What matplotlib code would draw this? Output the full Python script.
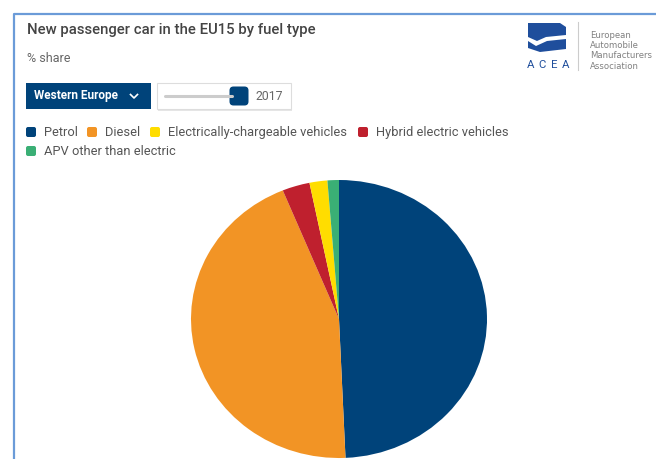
import matplotlib
matplotlib.use("Agg")
import matplotlib.pyplot as plt
from matplotlib.patches import FancyBboxPatch, Polygon, Rectangle

# ---- data ----
categories = ["Petrol", "Diesel", "Electrically-chargeable vehicles",
              "Hybrid electric vehicles", "APV other than electric"]
shares = [49.3, 44.5, 1.95, 3.0, 1.25]
colors = ["#00437A", "#F29425", "#FFDD00", "#BF202E", "#3AAF75"]
pie_order = [0, 1, 3, 2, 4]  # clockwise drawing order from 12 o'clock

title = "New passenger car in the EU15 by fuel type"
subtitle = "% share"
region = "Western Europe"
year = "2017"

plt.rcParams['font.family'] = ['Roboto', 'DejaVu Sans']

W, H = 656, 459
fig = plt.figure(figsize=(W / 100, H / 100), dpi=100)
fig.patch.set_facecolor("white")

# overlay in pixel coordinates
ov = fig.add_axes([0, 0, 1, 1])
ov.set_xlim(0, W)
ov.set_ylim(H, 0)
ov.axis("off")

# outer frame
ov.plot([13.5, 13.5, W], [H, 14, 14], color="#6B9BD8", lw=1.6,
        solid_capstyle="butt")

# title & subtitle
ov.text(27, 30, title, fontsize=10.7, color="#444444", fontweight="medium",
        va="center", ha="left")
ov.text(27, 58, subtitle, fontsize=9.0, color="#666666", va="center", ha="left")

# dropdown button
ov.add_patch(Rectangle((26, 83), 125, 26, facecolor="#00437A", edgecolor="none"))
ov.text(34, 96, region, fontsize=8.5, color="white", fontweight="bold",
        va="center", ha="left")
ov.plot([130.5, 134, 137.5], [94.5, 98, 94.5], color="white", lw=1.2)

# slider box
ov.add_patch(Rectangle((158, 84.5), 134, 26, facecolor="#e6e6e6", edgecolor="none"))
ov.add_patch(Rectangle((157, 83), 134, 26, facecolor="white", edgecolor="#dddddd", lw=0.8))
ov.plot([165, 232], [96, 96], color="#cccccc", lw=2.2, solid_capstyle="round")
ov.add_patch(FancyBboxPatch((231, 88), 16, 16, boxstyle="round,pad=1.5,rounding_size=4",
                            facecolor="#00437A", edgecolor="none"))
ov.text(255, 96.5, year, fontsize=8.8, color="#666666", va="center", ha="left")

# legend
legend_pos = [(26, 132), (87, 132), (150, 132), (358, 132), (26, 151)]
for i, (lx, ly) in enumerate(legend_pos):
    ov.add_patch(FancyBboxPatch((lx + 1, ly - 4), 8, 8,
                                boxstyle="round,pad=1,rounding_size=2",
                                facecolor=colors[i], edgecolor="none"))
    ov.text(lx + 18, ly + 0.5, categories[i], fontsize=9.3, color="#555555",
            va="center", ha="left")

# ACEA logo
logo_c = "#1F4E9C"
ov.add_patch(Polygon([(528, 23), (560, 23), (566, 27), (566, 35), (546, 37),
                      (537, 41), (528, 37)], closed=True, facecolor=logo_c,
                     edgecolor="none"))
ov.add_patch(Polygon([(528, 41), (536, 46), (547, 41), (566, 39), (566, 49),
                      (540, 52), (528, 48)], closed=True, facecolor=logo_c,
                     edgecolor="none"))
for k, ch in enumerate("ACEA"):
    ov.text(531 + k * 11.5, 65, ch, fontsize=8.2, color=logo_c, va="center",
            ha="center")
ov.plot([578, 578], [22, 70], color="#cccccc", lw=0.8)
for k, line in enumerate(["European", "Automobile", "Manufacturers", "Association"]):
    ov.text(590, 35 + k * 10.5, line, fontsize=6.1, color="#808080",
            va="center", ha="left", family=["DejaVu Sans"])

# pie (slightly elliptical as in the reference)
cx, cy, rx, ry = 339, 319, 148, 139
pax = fig.add_axes([(cx - rx) / W, (H - (cy + ry)) / H, 2 * rx / W, 2 * ry / H])
vals = [shares[i] for i in pie_order]
cols = [colors[i] for i in pie_order]
pax.pie(vals, colors=cols, startangle=90, counterclock=False,
        wedgeprops=dict(linewidth=0))
pax.set_aspect("auto")
pax.set_xlim(-1, 1)
pax.set_ylim(-1, 1)
pax.axis("off")

fig.savefig("out.png", dpi=100)
